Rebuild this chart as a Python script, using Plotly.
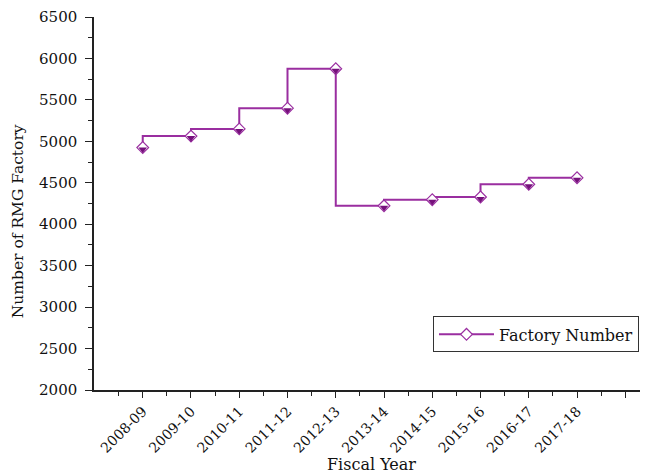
import plotly.graph_objects as go

years = ["2008-09", "2009-10", "2010-11", "2011-12", "2012-13",
         "2013-14", "2014-15", "2015-16", "2016-17", "2017-18"]
factories = [4925, 5063, 5150, 5400, 5876, 4222, 4296, 4328, 4482, 4560]
y_ticks = [2000, 2500, 3000, 3500, 4000, 4500, 5000, 5500, 6000, 6500]

xi = list(range(len(years)))
FONT = "DejaVu Serif"
LINE = "#9a2ea0"
DARK = "#76107c"

fig = go.Figure()
fig.add_trace(go.Scatter(
    x=xi, y=factories, mode="lines+markers", name="Factory Number",
    line=dict(color=LINE, width=2, shape="vh"),
    marker=dict(symbol="diamond", size=9, color="white",
                line=dict(color=LINE, width=1.2)),
))
# dark lower half of each diamond
fig.add_trace(go.Scatter(
    x=xi, y=factories, mode="markers", showlegend=False, hoverinfo="skip",
    marker=dict(symbol="triangle-down", size=7.4, color=DARK, angle=0,
                standoff=1.85, line=dict(width=0)),
))

# the page body has an 8px margin, so the figure is sized to fit the window
fig.update_layout(
    width=640, height=466,
    margin=dict(l=86, r=1, t=9, b=84),
    paper_bgcolor="white", plot_bgcolor="white",
    font=dict(family=FONT, size=15, color="#111111"),
    showlegend=True,
    legend=dict(x=0.613, y=0.149, xanchor="left", yanchor="middle",
                bordercolor="#333333", borderwidth=1, bgcolor="white",
                font=dict(family=FONT, size=16), itemwidth=55),
    annotations=[
        dict(text="Number of RMG Factory", xref="paper", yref="paper",
             x=-0.137, y=0.453, xanchor="center", yanchor="middle",
             textangle=-90, showarrow=False,
             font=dict(family=FONT, size=15.5, color="#111111")),
        dict(text="Fiscal Year", xref="paper", yref="paper",
             x=0.501, y=-0.2, xanchor="center", yanchor="middle",
             showarrow=False, font=dict(family=FONT, size=16, color="#111111")),
    ],
)
fig.update_xaxes(
    range=[-1.01, 10.45], automargin=False,
    tickmode="array", tickvals=xi + [10], ticktext=years + [""],
    tickangle=-45, ticks="outside", ticklen=6, tickwidth=1.3, tickcolor="#222",
    minor=dict(tickmode="array", tickvals=[i - 0.5 for i in range(11)],
               ticks="outside", ticklen=4, tickwidth=1.2, tickcolor="#222"),
    showline=True, linecolor="#222", linewidth=1.5,
    showgrid=False, zeroline=False,
    tickfont=dict(family=FONT, size=14),
)
fig.update_yaxes(
    range=[2000, 6500], automargin=False,
    tickmode="array", tickvals=y_ticks,
    ticks="outside", ticklen=7, tickwidth=1.3, tickcolor="#222",
    minor=dict(dtick=250, ticks="outside", ticklen=4, tickwidth=1.2, tickcolor="#222"),
    showline=True, linecolor="#222", linewidth=1.5,
    showgrid=False, zeroline=False,
    tickfont=dict(family=FONT, size=15), ticklabelstandoff=5,
)

fig.write_html("out.html")
